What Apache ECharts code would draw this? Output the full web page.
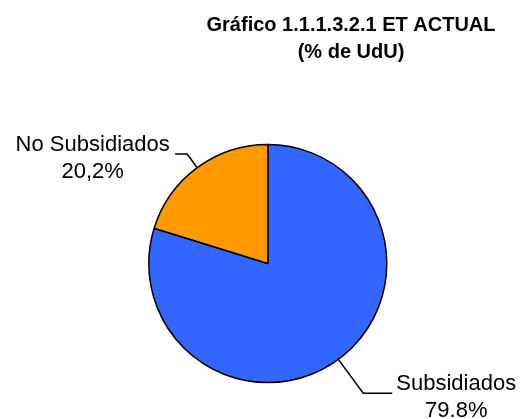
<!DOCTYPE html>
<html>
<head>
<meta charset="utf-8">
<script src="https://cdn.jsdelivr.net/npm/echarts@6/dist/echarts.min.js"></script>
<style>
  html, body { margin: 0; padding: 0; background: #fff; }
  #chart { width: 520px; height: 419px; }
</style>
</head>
<body>
<div id="chart"></div>
<script>
// datos del gráfico
const categories = ['Subsidiados', 'No Subsidiados'];
const values = [79.8, 20.2];
const valueLabels = ['79.8%', '20,2%'];
const colors = ['#3366ff', '#ff9900'];
const textWidths = [118, 155];
const lineLengths = [[42, 29], [17, 12]];

const chart = echarts.init(document.getElementById('chart'));

const option = {
  backgroundColor: '#fff',
  animation: false,
  title: {
    text: 'Gráfico 1.1.1.3.2.1 ET ACTUAL\n(% de UdU)',
    left: 346,
    top: 7,
    textAlign: 'center',
    textStyle: {
      fontFamily: 'Liberation Sans',
      fontSize: 20,
      fontWeight: 'bold',
      color: '#000',
      lineHeight: 27
    }
  },
  series: [
    {
      type: 'pie',
      center: ['51.5%', '62.9%'],
      radius: 119,
      startAngle: 90,
      clockwise: true,
      avoidLabelOverlap: false,
      itemStyle: {
        borderColor: '#000',
        borderWidth: 1.5
      },
      label: {
        show: true,
        position: 'outside',
        distanceToLabelLine: 5,
        padding: [8, 0, 0, 0],
        fontFamily: 'Liberation Sans',
        fontSize: 22,
        color: '#000'
      },
      labelLine: {
        show: true,
        lineStyle: { color: '#000', width: 1.5 }
      },
      emphasis: { disabled: true },
      data: categories.map((name, i) => ({
        name: name,
        value: values[i],
        itemStyle: { color: colors[i] },
        label: {
          formatter: '{t|' + name + '}\n{t|' + valueLabels[i] + '}',
          rich: {
            t: {
              width: textWidths[i],
              align: 'center',
              fontFamily: 'Liberation Sans',
              fontSize: 22,
              lineHeight: 27,
              color: '#000'
            }
          }
        },
        labelLine: { length: lineLengths[i][0], length2: lineLengths[i][1] }
      }))
    }
  ]
};

chart.setOption(option);
</script>
</body>
</html>
